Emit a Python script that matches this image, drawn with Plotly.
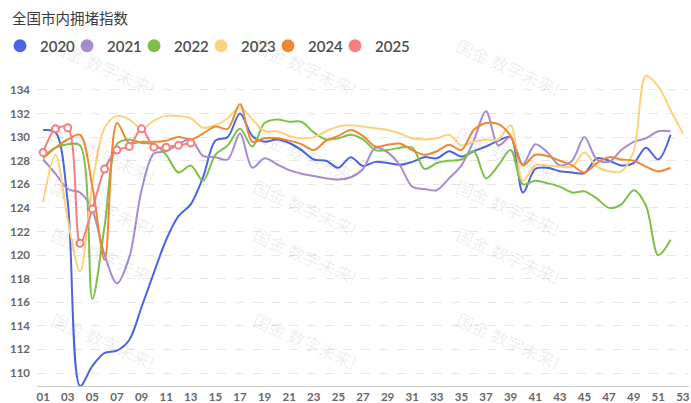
import plotly.graph_objects as go

weeks = ["01","02","03","04","05","06","07","08","09","10","11","12","13","14","15","16","17","18","19","20",
         "21","22","23","24","25","26","27","28","29","30","31","32","33","34","35","36","37","38","39","40",
         "41","42","43","44","45","46","47","48","49","50","51","52","53"]
tick_labels = ["01","03","05","07","09","11","13","15","17","19","21","23","25","27","29","31","33","35",
               "37","39","41","43","45","47","49","51","53"]
y_ticks = [110,112,114,116,118,120,122,124,126,128,130,132,134]

v2020 = [130.6,130.4,124.5,108.9,110.6,111.7,111.9,112.8,115.6,118.5,121.3,123.3,124.3,126.6,129.7,130.0,132.0,
         130.1,129.6,129.8,129.5,128.9,128.1,128.0,127.4,128.3,127.55,127.9,127.8,127.65,127.9,128.3,128.2,128.8,128.35,
         128.8,129.2,129.7,130.0,125.3,127.3,127.4,127.1,127.0,126.95,128.2,128.0,127.6,127.8,129.1,128.1,130.2]
v2021 = [128.1,126.9,125.6,125.3,123.8,120.0,117.6,119.8,125.5,128.6,128.8,129.4,129.8,128.4,128.3,128.1,130.3,
         127.4,128.2,127.7,127.2,126.9,126.7,126.5,126.4,126.6,127.3,129.1,128.7,127.6,125.8,125.6,125.5,126.5,127.6,
         129.7,132.2,129.3,130.0,127.7,129.4,128.7,127.6,128.0,130.0,128.1,127.9,128.9,129.6,129.9,130.5,130.5]
v2022 = [128.3,129.1,129.4,129.3,116.3,122.5,129.4,129.8,129.5,129.4,128.5,127.0,127.6,126.3,128.5,129.3,130.7,
         129.2,131.2,131.5,131.3,131.3,130.4,129.8,129.9,130.2,129.8,128.9,128.9,129.1,129.1,127.3,127.8,128.0,128.1,
         128.8,126.5,127.6,128.9,126.0,126.3,126.1,125.8,125.3,125.4,124.8,124.0,124.3,125.5,124.2,120.0,121.3]
v2023 = [124.5,128.5,123.0,118.6,126.0,130.8,131.8,131.5,130.7,131.4,131.8,131.8,131.6,130.8,131.0,131.6,132.5,
         131.5,130.5,130.5,130.1,129.9,130.0,130.5,130.9,131.0,130.9,130.75,130.6,130.3,129.9,129.8,129.9,130.2,129.3,
         129.6,129.8,129.8,131.0,126.3,127.6,127.6,127.5,127.5,128.7,127.5,127.1,127.1,128.8,135.2,134.3,132.3,130.3]
v2024 = [128.2,129.1,129.8,130.2,125.8,119.6,131.2,129.5,129.6,129.6,129.7,130.0,129.8,130.3,130.9,130.7,132.8,
         129.6,129.9,129.9,129.7,129.4,128.9,129.7,130.1,130.6,130.1,129.2,129.35,129.45,128.9,128.5,128.8,129.35,128.9,
         130.6,131.2,131.1,130.1,127.6,128.5,128.4,128.0,127.6,127.0,127.8,128.3,128.1,128.0,127.5,127.1,127.4]
v2025 = [128.7,130.7,130.8,121.0,123.9,127.3,128.9,129.2,130.7,129.15,129.15,129.3,129.5]

series = [("2020", v2020, "#4a64e4"), ("2021", v2021, "#a68bd0"), ("2022", v2022, "#7fbf47"),
          ("2023", v2023, "#fbd27d"), ("2024", v2024, "#ef8833"), ("2025", v2025, "#f67f80")]

W, H = 691, 403
ML, MR, MT, MB = 37, 2, 74, 17
PW, PH = W - ML - MR, H - MT - MB

fig = go.Figure()
for name, vals, col in series:
    is25 = name == "2025"
    fig.add_trace(go.Scatter(
        x=weeks[:len(vals)], y=vals, name=name, showlegend=False,
        mode="lines+markers" if is25 else "lines",
        line=dict(color=col, width=2, shape="spline", smoothing=0.9),
        marker=dict(symbol="circle", size=7, color="white", line=dict(color=col, width=2)),
        hoverinfo="x+y+name"))
for name, vals, col in series:
    fig.add_trace(go.Scatter(x=[None], y=[None], name=name, mode="markers",
                             marker=dict(symbol="circle", size=13, color=col), showlegend=True))
# invisible spacer entry so the last legend label is not clipped
fig.add_trace(go.Scatter(x=[None], y=[None], name="    ", mode="markers",
                         marker=dict(size=1, color="rgba(0,0,0,0)"), showlegend=True, hoverinfo="skip"))

# watermarks (pixel centres converted to paper coords)
wm_x = [45, 305, 567]
wm_y = [30, 118, 207, 292, 377]
for wx in wm_x:
    for wy in wm_y:
        fig.add_annotation(x=(wx - ML) / PW, y=(H - MB - wy) / PH, xref="paper", yref="paper",
                           text="国金 数字未来!", showarrow=False, textangle=24,
                           font=dict(size=17, color="rgba(0,0,0,0.085)", family="Noto Sans CJK SC"))

fig.update_layout(
    width=W, height=H,
    margin=dict(l=ML, r=MR, t=MT, b=MB, autoexpand=False),
    paper_bgcolor="white", plot_bgcolor="white",
    title=dict(text="全国市内拥堵指数", x=12 / W, xanchor="left", y=1 - 19 / H, yanchor="middle",
               xref="container", yref="container", automargin=False,
               font=dict(family="Noto Sans CJK SC", size=14.5, color="#3a3a3a")),
    legend=dict(orientation="h", xref="container", yref="container", x=-23 / W, xanchor="left",
                y=1 - 46 / H, yanchor="middle", itemwidth=30, entrywidth=22, entrywidthmode="pixels",
                font=dict(family="Lato", size=15, color="#4d4d4d", weight=600), bgcolor="rgba(0,0,0,0)"),
    xaxis=dict(type="category", categoryorder="array", categoryarray=weeks, range=[-0.5, 52.5],
               tickmode="array", tickvals=tick_labels, ticktext=tick_labels, showgrid=False,
               showline=True, linecolor="#cccccc", linewidth=1, ticks="", automargin=False,
               tickfont=dict(family="Lato", size=11.5, color="#666666", weight=700), fixedrange=True),
    yaxis=dict(range=[108.9, 135.35], tickmode="array", tickvals=y_ticks, showgrid=True,
               gridcolor="#e6e6e6", griddash="dash", gridwidth=1, zeroline=False, showline=False, ticks="",
               ticklabelstandoff=6, automargin=False,
               tickfont=dict(family="Lato", size=11.5, color="#666666", weight=700), fixedrange=True),
    font=dict(family="Lato"),
)

fig.write_html("out.html", post_script="document.body.style.margin='0';document.body.style.overflow='hidden';",
               config={"displayModeBar": False})
